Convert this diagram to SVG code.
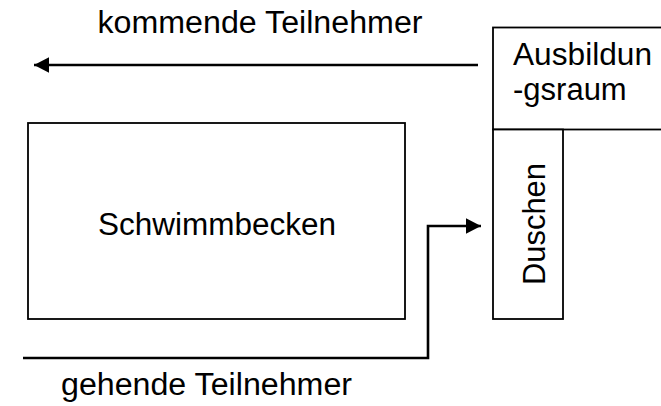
<svg xmlns="http://www.w3.org/2000/svg" width="661" height="406" viewBox="0 0 661 406">
<style>
.box{fill:#fff;stroke:#000;stroke-width:1.8}
.con{fill:none;stroke:#000;stroke-width:2.6}
text{font-family:"Liberation Sans",Arial,sans-serif;font-size:31px;fill:#000}
</style>
<defs>
<marker id="ah" markerUnits="userSpaceOnUse" markerWidth="16" markerHeight="16" refX="15" refY="8" orient="auto">
<path d="M0,0.3 L15,8 L0,15.7 Z" fill="#000"/>
</marker>
</defs>
<rect width="661" height="406" fill="#fff"/>
<g id="schwimmbecken">
<rect class="box" x="28" y="123" width="377" height="196"/>
<text x="217" y="235" text-anchor="middle" textLength="238" lengthAdjust="spacingAndGlyphs">Schwimmbecken</text>
</g>
<g id="ausbildungsraum">
<rect class="box" x="493" y="27.5" width="175" height="102"/>
<text x="513" y="65" textLength="139" lengthAdjust="spacingAndGlyphs">Ausbildun</text>
<text x="513" y="100">-gsraum</text>
</g>
<g id="duschen">
<rect class="box" x="493" y="129.5" width="70" height="189.5"/>
<text transform="translate(544.5,224) rotate(-90)" text-anchor="middle" textLength="122" lengthAdjust="spacingAndGlyphs">Duschen</text>
</g>
<g id="connectors">
<path class="con" d="M478,65 H34" marker-end="url(#ah)"/>
<path class="con" d="M23,358 H428 V226 H481" marker-end="url(#ah)"/>
</g>
<g id="labels">
<text x="97.5" y="33" textLength="325" lengthAdjust="spacingAndGlyphs">kommende Teilnehmer</text>
<text x="61" y="395" textLength="291" lengthAdjust="spacingAndGlyphs">gehende Teilnehmer</text>
</g>
</svg>
